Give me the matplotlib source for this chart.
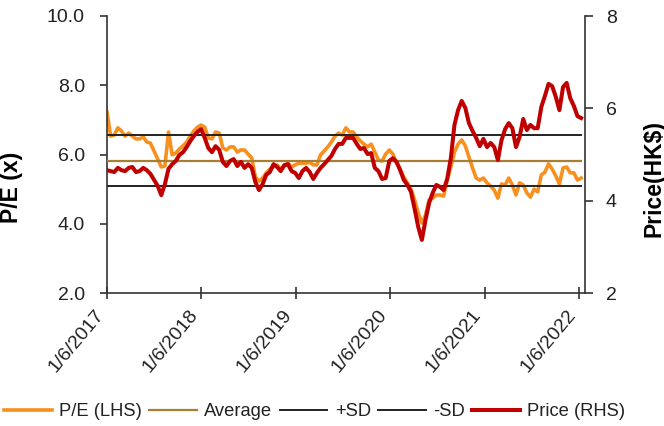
import matplotlib
matplotlib.use("Agg")
import matplotlib.pyplot as plt
import pandas as pd

plt.rcParams['font.family'] = ['Liberation Sans', 'DejaVu Sans']

# Fortnightly observations from 6 Jan 2017
dates = pd.date_range('2017-01-06', periods=132, freq='14D')

pe = [7.23, 6.53, 6.56, 6.77, 6.68, 6.53, 6.62, 6.53, 6.45, 6.45,
      6.51, 6.36, 6.33, 6.10, 5.87, 5.64, 5.67, 6.65, 5.99, 6.04,
      6.16, 6.25, 6.36, 6.53, 6.68, 6.79, 6.85, 6.79, 6.48, 6.45,
      6.65, 6.62, 6.19, 6.13, 6.22, 6.22, 6.07, 6.13, 6.13, 6.01,
      5.90, 5.35, 5.23, 5.32, 5.47, 5.58, 5.64, 5.70, 5.58, 5.67,
      5.75, 5.64, 5.70, 5.75, 5.75, 5.75, 5.78, 5.70, 5.70, 5.99,
      6.10, 6.22, 6.36, 6.53, 6.62, 6.56, 6.77, 6.65, 6.65, 6.51,
      6.39, 6.30, 6.22, 6.30, 6.07, 5.84, 5.81, 6.01, 6.13, 6.01,
      5.75, 5.58, 5.35, 5.18, 5.00, 4.69, 4.31, 4.02, 4.25, 4.69,
      4.74, 4.83, 4.83, 4.80, 5.26, 5.64, 6.07, 6.30, 6.42, 6.25,
      5.93, 5.61, 5.32, 5.26, 5.32, 5.18, 5.09, 4.97, 4.74, 5.15,
      5.12, 5.32, 5.12, 4.83, 5.18, 5.12, 4.89, 4.77, 5.00, 4.92,
      5.41, 5.49, 5.73, 5.58, 5.38, 5.15, 5.61, 5.64, 5.47, 5.47,
      5.26, 5.32]

price = [4.66, 4.64, 4.62, 4.71, 4.66, 4.64, 4.71, 4.73, 4.62, 4.64,
         4.71, 4.66, 4.58, 4.45, 4.32, 4.12, 4.36, 4.69, 4.79, 4.86,
         4.99, 5.05, 5.16, 5.29, 5.40, 5.49, 5.55, 5.36, 5.14, 5.05,
         5.18, 5.10, 4.84, 4.75, 4.86, 4.90, 4.75, 4.84, 4.71, 4.79,
         4.71, 4.40, 4.23, 4.36, 4.56, 4.62, 4.79, 4.73, 4.64, 4.77,
         4.79, 4.64, 4.60, 4.49, 4.64, 4.71, 4.62, 4.47, 4.60, 4.71,
         4.79, 4.88, 4.97, 5.12, 5.23, 5.23, 5.36, 5.36, 5.36, 5.23,
         5.12, 5.14, 5.01, 5.03, 4.71, 4.64, 4.47, 4.49, 4.86, 4.92,
         4.84, 4.66, 4.45, 4.34, 4.19, 3.82, 3.43, 3.15, 3.58, 3.95,
         4.17, 4.34, 4.30, 4.23, 4.47, 4.92, 5.64, 5.96, 6.16, 6.01,
         5.68, 5.51, 5.36, 5.18, 5.34, 5.16, 5.25, 5.16, 4.88, 5.31,
         5.55, 5.68, 5.57, 5.16, 5.38, 5.77, 5.53, 5.64, 5.57, 5.57,
         6.03, 6.27, 6.53, 6.48, 6.25, 5.96, 6.46, 6.55, 6.22, 6.05,
         5.83, 5.79]

pe_average = 5.82
pe_plus_sd = 6.55
pe_minus_sd = 5.10

tick_dates = ['2017-01-06', '2018-01-06', '2019-01-06', '2020-01-06', '2021-01-06', '2022-01-06']
tick_labels = ['1/6/2017', '1/6/2018', '1/6/2019', '1/6/2020', '1/6/2021', '1/6/2022']

c_pe = '#F7901E'
c_avg = '#A87F32'
c_sd = '#222222'
c_price = '#C00000'
c_txt = '#222222'

fig = plt.figure(figsize=(6.64, 4.26), dpi=100)
ax = fig.add_axes([107/664, 1-293/426, (585-107)/664, (293-16)/426])
ax2 = ax.twinx()

n = len(dates)
ax.plot(dates, pe, color=c_pe, lw=2.6, label='P/E (LHS)', zorder=2)
ax.plot(dates, [pe_average]*n, color=c_avg, lw=1.6, label='Average', zorder=3)
ax.plot(dates, [pe_plus_sd]*n, color=c_sd, lw=1.4, label='+SD', zorder=3)
ax.plot(dates, [pe_minus_sd]*n, color=c_sd, lw=1.4, label='-SD', zorder=3)
ax2.plot(dates, price, color=c_price, lw=2.9, label='Price (RHS)', zorder=4)

ax.set_ylim(2, 10)
ax.set_yticks([2, 4, 6, 8, 10])
ax.set_yticklabels(['2.0', '4.0', '6.0', '8.0', '10.0'])
ax2.set_ylim(2, 8)
ax2.set_yticks([2, 4, 6, 8])
ax2.set_yticklabels(['2', '4', '6', '8'])

ax.set_xlim(pd.Timestamp('2017-01-06'), pd.Timestamp('2022-01-29'))
ax.set_xticks([pd.Timestamp(d) for d in tick_dates])
ax.set_xticklabels(tick_labels, rotation=50, ha='right')

for a in (ax, ax2):
    a.spines['top'].set_visible(False)
    for s in ('left', 'right', 'bottom'):
        a.spines[s].set_color('#333333')
        a.spines[s].set_linewidth(1.2)
    a.set_facecolor('none')
ax.spines['right'].set_visible(False)
ax2.spines['left'].set_visible(False)
ax2.spines['bottom'].set_visible(False)

ax.tick_params(axis='y', direction='out', length=5, width=1.2, color='#333333',
               labelsize=14, labelcolor=c_txt, pad=11)
ax.tick_params(axis='x', direction='inout', length=8, width=1.2, color='#333333',
               labelsize=14, labelcolor=c_txt, pad=6)
ax2.tick_params(axis='y', direction='out', length=6, width=1.2, color='#333333',
                labelsize=14, labelcolor=c_txt, pad=9)

ax.set_ylabel('P/E (x)', fontsize=16.5, fontweight='bold', color='black')
ax.yaxis.set_label_coords(-0.175, 0.38)
ax2.set_ylabel('Price(HK$)', fontsize=16.5, fontweight='bold', color='black')
ax2.yaxis.set_label_coords(1.12, 0.415)

h1, l1 = ax.get_legend_handles_labels()
h2, l2 = ax2.get_legend_handles_labels()
fig.legend(h1 + h2, l1 + l2, loc='center left', bbox_to_anchor=(0.006, 1-412/426),
           ncol=5, frameon=False, fontsize=13.2, handlelength=2.6, handletextpad=0.4,
           columnspacing=0.4, borderaxespad=0, borderpad=0, labelcolor=c_txt)

fig.savefig('out.png', dpi=100)
